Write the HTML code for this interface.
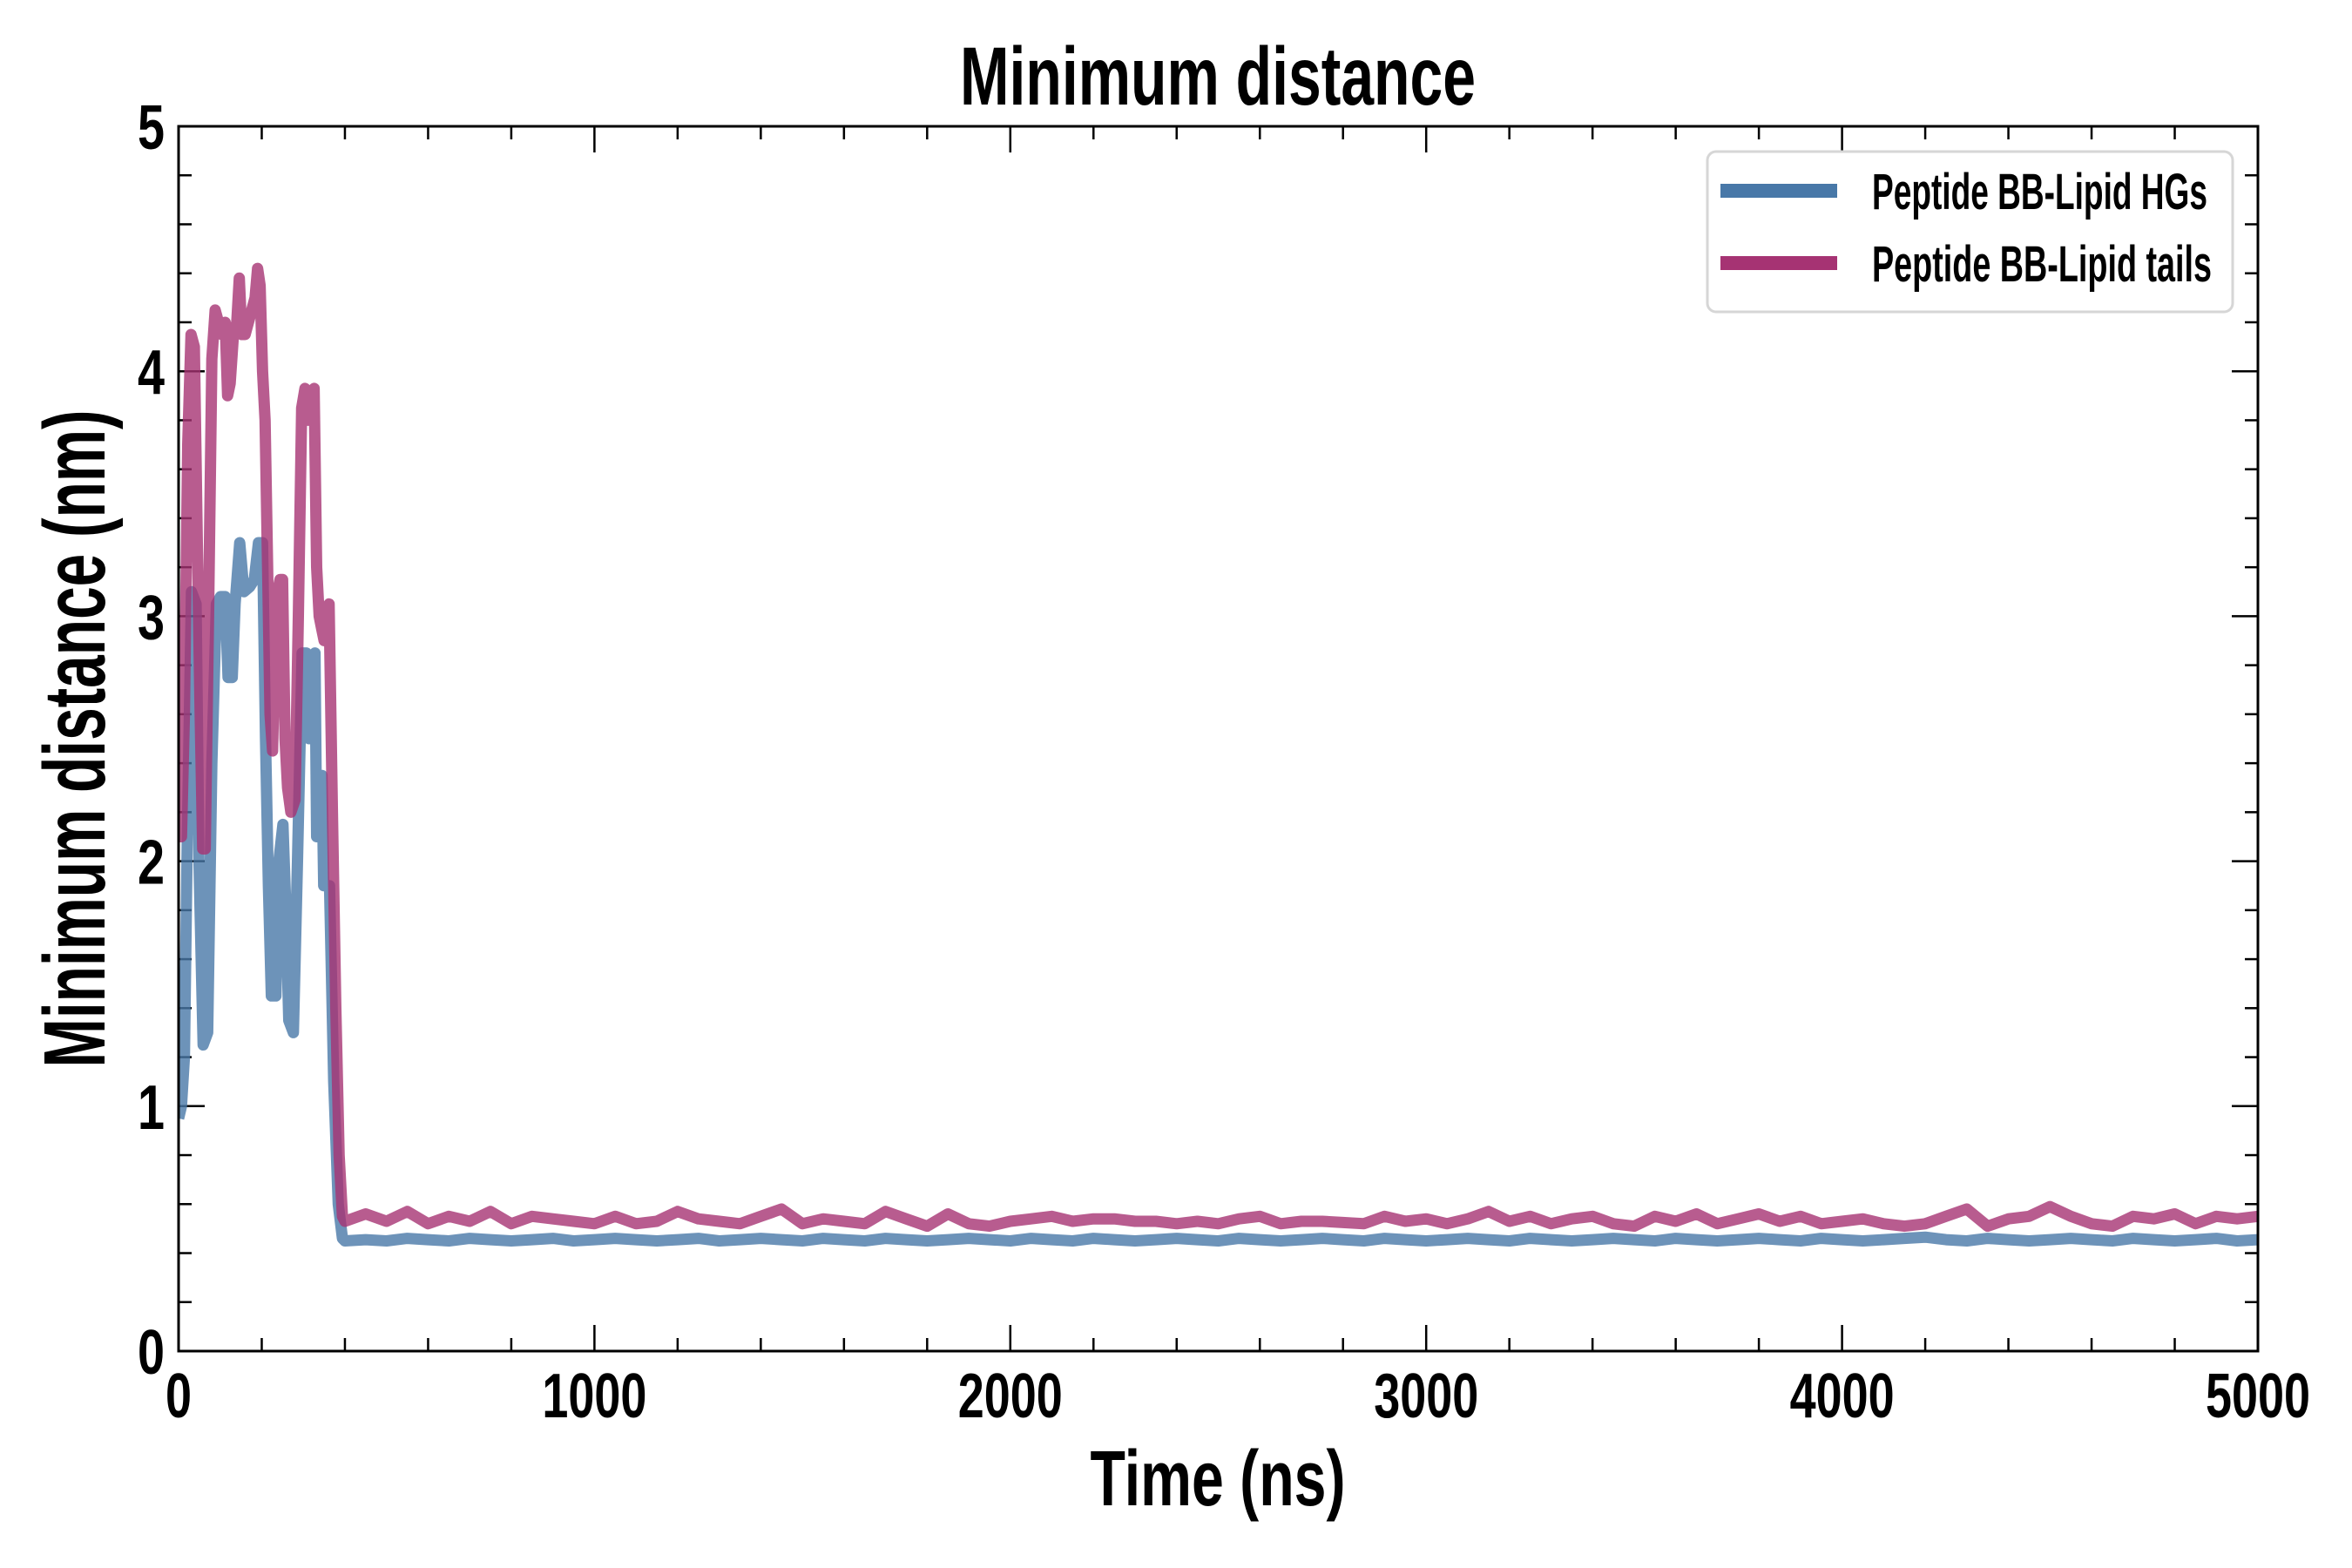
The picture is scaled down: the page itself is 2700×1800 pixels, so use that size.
<!DOCTYPE html>
<html><head><meta charset="utf-8"><style>
html,body{margin:0;padding:0;background:#fff;}
svg{display:block;}
text{font-family:"Liberation Sans",sans-serif;font-weight:bold;fill:#000;}
</style></head><body>
<svg id="chart" xmlns="http://www.w3.org/2000/svg" width="2700" height="1800" viewBox="0 0 2700 1800">
<rect x="0" y="0" width="2700" height="1800" fill="#fff"/>
<g id="ticks"></g>
<g id="series" clip-path="url(#clip)"></g>
<defs><clipPath id="clip"><rect x="205" y="145" width="2387" height="1406"/></clipPath></defs>
<rect x="205" y="145" width="2387" height="1406" fill="none" stroke="#000" stroke-width="3"/>
<g id="ticklabels"></g>
<text x="1398" y="120" font-size="95" text-anchor="middle" textLength="592" lengthAdjust="spacingAndGlyphs">Minimum distance</text>
<text x="1398" y="1728" font-size="90" text-anchor="middle" textLength="293" lengthAdjust="spacingAndGlyphs">Time (ns)</text>
<text x="0" y="0" font-size="100" text-anchor="middle" textLength="755" lengthAdjust="spacingAndGlyphs" transform="translate(120,848) rotate(-90)">Minimum distance (nm)</text>
<g>
<rect x="1960" y="174" width="603" height="184" rx="10" fill="#fff" fill-opacity="0.8" stroke="#d6d6d6" stroke-width="3"/>
<line x1="1975" y1="219" x2="2109" y2="219" stroke="#4878a8" stroke-width="16"/>
<text x="2149" y="240" font-size="58" textLength="385" lengthAdjust="spacingAndGlyphs">Peptide BB-Lipid HGs</text>
<line x1="1975" y1="302" x2="2109" y2="302" stroke="#a63373" stroke-width="16"/>
<text x="2149" y="323" font-size="58" textLength="390" lengthAdjust="spacingAndGlyphs">Peptide BB-Lipid tails</text>
</g>
</svg>
<script>
const xTicks = [0, 1000, 2000, 3000, 4000, 5000];
const yTicks = [0, 1, 2, 3, 4, 5];
const earlyTimesHG = [0,7,14,21,31,42,49,59,70,80,91,101,112,119,129,136,147,157,171,182,192,202,209,216,223,234,241,251,258,265,276,286,297,307,314,328,332,345,349,363,373,384,394,400];
const earlyHG = [0.95,1.0,1.2,2.1,3.1,3.05,2.0,1.25,1.3,2.4,3.05,3.08,3.08,2.75,2.75,3.05,3.3,3.1,3.12,3.15,3.3,3.3,2.5,1.9,1.45,1.45,2.0,2.15,1.8,1.35,1.3,2.0,2.85,2.85,2.5,2.85,2.1,2.35,1.9,1.9,1.1,0.6,0.46,0.45];
const earlyTimesTails = [0,7,14,22,30,38,45,52,58,64,72,80,88,96,104,112,118,124,132,140,146,152,160,168,176,184,190,196,202,208,214,220,226,232,238,244,250,256,262,270,280,288,296,304,310,318,326,332,338,344,350,356,362,370,378,386,394,400];
const earlyTails = [2.1,2.1,2.6,3.7,4.15,4.1,3.3,2.6,2.05,2.05,3.0,4.05,4.25,4.2,4.15,4.2,3.9,3.95,4.15,4.2,4.38,4.15,4.15,4.2,4.25,4.3,4.42,4.35,4.0,3.8,3.2,2.6,2.45,2.9,3.1,3.15,3.15,2.5,2.3,2.2,2.25,3.0,3.85,3.93,3.8,3.9,3.93,3.2,3.0,2.95,2.9,2.9,3.05,2.2,1.4,0.8,0.55,0.53];
// late phase sampled every 50 ns from 450 to 5000
const lateTimes = [];
for (let t = 450; t <= 5000; t += 50) lateTimes.push(t);
const lateTails = [0.56,0.53,0.57,0.52,0.55,0.53,0.57,0.52,0.55,0.54,0.53,0.52,0.55,0.52,0.53,0.57,0.54,0.53,0.52,0.55,0.58,0.52,0.54,0.53,0.52,0.57,0.54,0.51,0.56,0.52,0.51,0.53,0.54,0.55,0.53,0.54,0.54,0.53,0.53,0.52,0.53,0.52,0.54,0.55,0.52,0.53,0.53,0.525,0.52,0.55,0.53,0.54,0.52,0.54,0.57,0.53,0.55,0.52,0.54,0.55,0.52,0.51,0.55,0.53,0.56,0.52,0.54,0.56,0.53,0.55,0.52,0.53,0.54,0.52,0.51,0.52,0.55,0.58,0.51,0.54,0.55,0.59,0.55,0.52,0.51,0.55,0.54,0.56,0.52,0.55,0.54,0.55];
const lateHG = [0.455,0.45,0.46,0.455,0.45,0.46,0.455,0.45,0.455,0.46,0.45,0.455,0.46,0.455,0.45,0.455,0.46,0.45,0.455,0.46,0.455,0.45,0.46,0.455,0.45,0.46,0.455,0.45,0.455,0.46,0.455,0.45,0.46,0.455,0.45,0.46,0.455,0.45,0.455,0.46,0.455,0.45,0.46,0.455,0.45,0.455,0.46,0.455,0.45,0.46,0.455,0.45,0.455,0.46,0.455,0.45,0.46,0.455,0.45,0.455,0.46,0.455,0.45,0.46,0.455,0.45,0.455,0.46,0.455,0.45,0.46,0.455,0.45,0.455,0.46,0.465,0.455,0.45,0.46,0.455,0.45,0.455,0.46,0.455,0.45,0.46,0.455,0.45,0.455,0.46,0.45,0.455];

const X0 = 205, X1 = 2592, Y0 = 1551, Y1 = 145;
function xs(t) { return X0 + (t / 5000) * (X1 - X0); }
function ys(v) { return Y0 - (v / 5) * (Y0 - Y1); }
const NS = 'http://www.w3.org/2000/svg';

const tickG = document.getElementById('ticks');
const lblG = document.getElementById('ticklabels');
function line(x1, y1, x2, y2, name) {
  const l = document.createElementNS(NS, 'line');
  l.setAttribute('x1', x1); l.setAttribute('y1', y1); l.setAttribute('x2', x2); l.setAttribute('y2', y2);
  l.setAttribute('stroke', '#000'); l.setAttribute('stroke-width', '2.5');
  
  
  tickG.appendChild(l);
}
for (let t = 0; t <= 5000; t += 200) {
  const major = t % 1000 === 0, len = major ? 30 : 15, x = xs(t);
  line(x, Y0, x, Y0 - len, 'x-tick');
  line(x, Y1, x, Y1 + len, 'x-tick-top');
}
for (let i = 0; i <= 25; i++) {
  const v = i * 0.2, major = i % 5 === 0, len = major ? 30 : 15, y = ys(v);
  line(X0, y, X0 + len, y, 'y-tick');
  line(X1, y, X1 - len, y, 'y-tick-right');
}
xTicks.forEach(t => {
  const s = String(t);
  const tx = document.createElementNS(NS, 'text');
  tx.setAttribute('x', xs(t)); tx.setAttribute('y', 1627);
  tx.setAttribute('font-size', '72'); tx.setAttribute('text-anchor', 'middle');
  tx.setAttribute('textLength', 30 * s.length); tx.setAttribute('lengthAdjust', 'spacingAndGlyphs');
  tx.textContent = s;
  
  
  lblG.appendChild(tx);
});
yTicks.forEach(v => {
  const tx = document.createElementNS(NS, 'text');
  tx.setAttribute('x', 189); tx.setAttribute('y', ys(v) + 26);
  tx.setAttribute('font-size', '72'); tx.setAttribute('text-anchor', 'end');
  tx.setAttribute('textLength', 31); tx.setAttribute('lengthAdjust', 'spacingAndGlyphs');
  tx.textContent = String(v);
  
  
  lblG.appendChild(tx);
});

const serG = document.getElementById('series');
function drawSeries(times, vals, color, name) {
  const p = document.createElementNS(NS, 'path');
  let d = '';
  times.forEach((t, i) => { d += (i ? 'L' : 'M') + xs(t).toFixed(1) + ',' + ys(vals[i]).toFixed(1); });
  p.setAttribute('d', d);
  p.setAttribute('fill', 'none'); p.setAttribute('stroke', color);
  p.setAttribute('stroke-width', '13'); p.setAttribute('stroke-linejoin', 'round');
  p.setAttribute('stroke-opacity', '0.8');
  
  
  serG.appendChild(p);
}
drawSeries(earlyTimesHG.concat(lateTimes), earlyHG.concat(lateHG), '#4878a8', 'series-lipid-hgs');
drawSeries(earlyTimesTails.concat(lateTimes), earlyTails.concat(lateTails), '#a63373', 'series-lipid-tails');
</script>
</body></html>
